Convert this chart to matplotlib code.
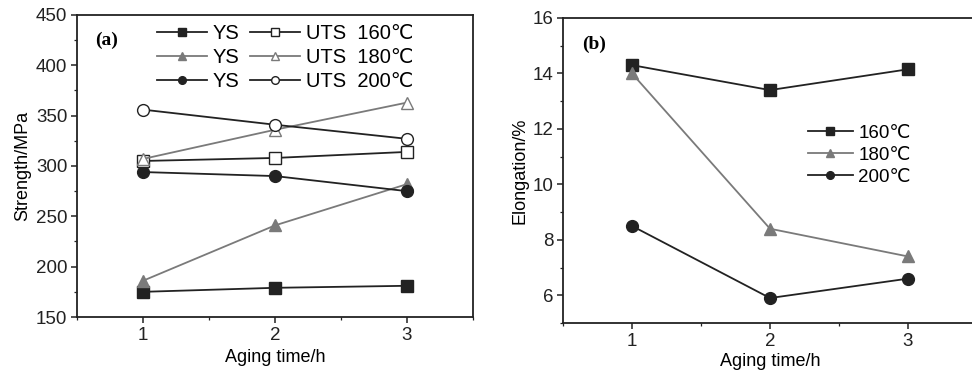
import matplotlib
matplotlib.use("Agg")
import matplotlib.pyplot as plt
from matplotlib.ticker import MultipleLocator

plt.rcParams['font.family'] = ['Liberation Sans', 'DejaVu Sans']

aging_time = [1, 2, 3]
ys_160 = [175, 179, 181]
ys_180 = [186, 241, 282]
ys_200 = [294, 290, 275]
uts_160 = [305, 308, 314]
uts_180 = [307, 336, 363]
uts_200 = [356, 341, 327]

el_160 = [14.3, 13.4, 14.15]
el_180 = [14.0, 8.4, 7.4]
el_200 = [8.5, 5.9, 6.6]

dark = '#222222'
gray = '#7a7a7a'

fig = plt.figure(figsize=(9.72, 3.76), dpi=100)
W, H = 972, 376
ax1 = fig.add_axes([77 / W, 1 - 317 / H, (473 - 77) / W, (317 - 15) / H])
ax2 = fig.add_axes([563 / W, 1 - 323 / H, (977 - 563) / W, (323 - 18) / H])

ms = 8.5
lw = 1.3
h = []
h += ax1.plot(aging_time, ys_160, '-s', color=dark, mfc=dark, ms=ms, lw=lw, label='YS')
h += ax1.plot(aging_time, ys_180, '-^', color=gray, mfc=gray, ms=ms, lw=lw, label='YS')
h += ax1.plot(aging_time, ys_200, '-o', color=dark, mfc=dark, ms=ms, lw=lw, label='YS')
h += ax1.plot(aging_time, uts_160, '-s', color=dark, mfc='white', ms=ms, lw=lw, label='UTS  160\u2103')
h += ax1.plot(aging_time, uts_180, '-^', color=gray, mfc='white', ms=ms, lw=lw, label='UTS  180\u2103')
h += ax1.plot(aging_time, uts_200, '-o', color=dark, mfc='white', ms=ms, lw=lw, label='UTS  200\u2103')

ax1.set_xlim(0.5, 3.5)
ax1.set_ylim(150, 450)
ax1.set_xticks([1, 2, 3])
ax1.set_yticks(range(150, 451, 50))
ax1.xaxis.set_minor_locator(MultipleLocator(0.5))
ax1.yaxis.set_minor_locator(MultipleLocator(25))
ax1.set_xlabel('Aging time/h', fontsize=13, labelpad=4)
ax1.set_ylabel('Strength/MPa', fontsize=13, labelpad=3)
ax1.text(0.045, 0.915, '(a)', transform=ax1.transAxes, fontsize=14, fontweight='bold',
         family='Liberation Serif', va='center')
ax1.legend(handles=h, ncol=2, loc='upper left', bbox_to_anchor=(0.155, 1.03), frameon=False,
           fontsize=14.5, handlelength=2.5, handletextpad=0.3, columnspacing=0.5,
           labelspacing=0.25, markerscale=0.65)

h2 = []
h2 += ax2.plot(aging_time, el_160, '-s', color=dark, mfc=dark, ms=ms, lw=lw, label='160\u2103')
h2 += ax2.plot(aging_time, el_180, '-^', color=gray, mfc=gray, ms=ms, lw=lw, label='180\u2103')
h2 += ax2.plot(aging_time, el_200, '-o', color=dark, mfc=dark, ms=ms, lw=lw, label='200\u2103')
ax2.set_xlim(0.5, 3.5)
ax2.set_ylim(5, 16)
ax2.set_xticks([1, 2, 3])
ax2.set_yticks(range(6, 17, 2))
ax2.xaxis.set_minor_locator(MultipleLocator(0.5))
ax2.yaxis.set_minor_locator(MultipleLocator(1))
ax2.set_xlabel('Aging time/h', fontsize=13, labelpad=2)
ax2.set_ylabel('Elongation/%', fontsize=13, labelpad=3)
ax2.text(0.045, 0.915, '(b)', transform=ax2.transAxes, fontsize=14, fontweight='bold',
         family='Liberation Serif', va='center')
ax2.legend(handles=h2, loc='upper left', bbox_to_anchor=(0.55, 0.705), frameon=False,
           fontsize=13.5, handlelength=2.4, handletextpad=0.3, labelspacing=0.25,
           markerscale=0.65)

for ax in (ax1, ax2):
    for s in ax.spines.values():
        s.set_linewidth(1.3)
        s.set_color(dark)
    ax.tick_params(which='major', direction='out', length=4, width=1.1, labelsize=13.5,
                   colors=dark, pad=3)
    ax.tick_params(which='minor', direction='out', length=2.5, width=0.9, colors=dark)

fig.savefig('out.png', dpi=100)
